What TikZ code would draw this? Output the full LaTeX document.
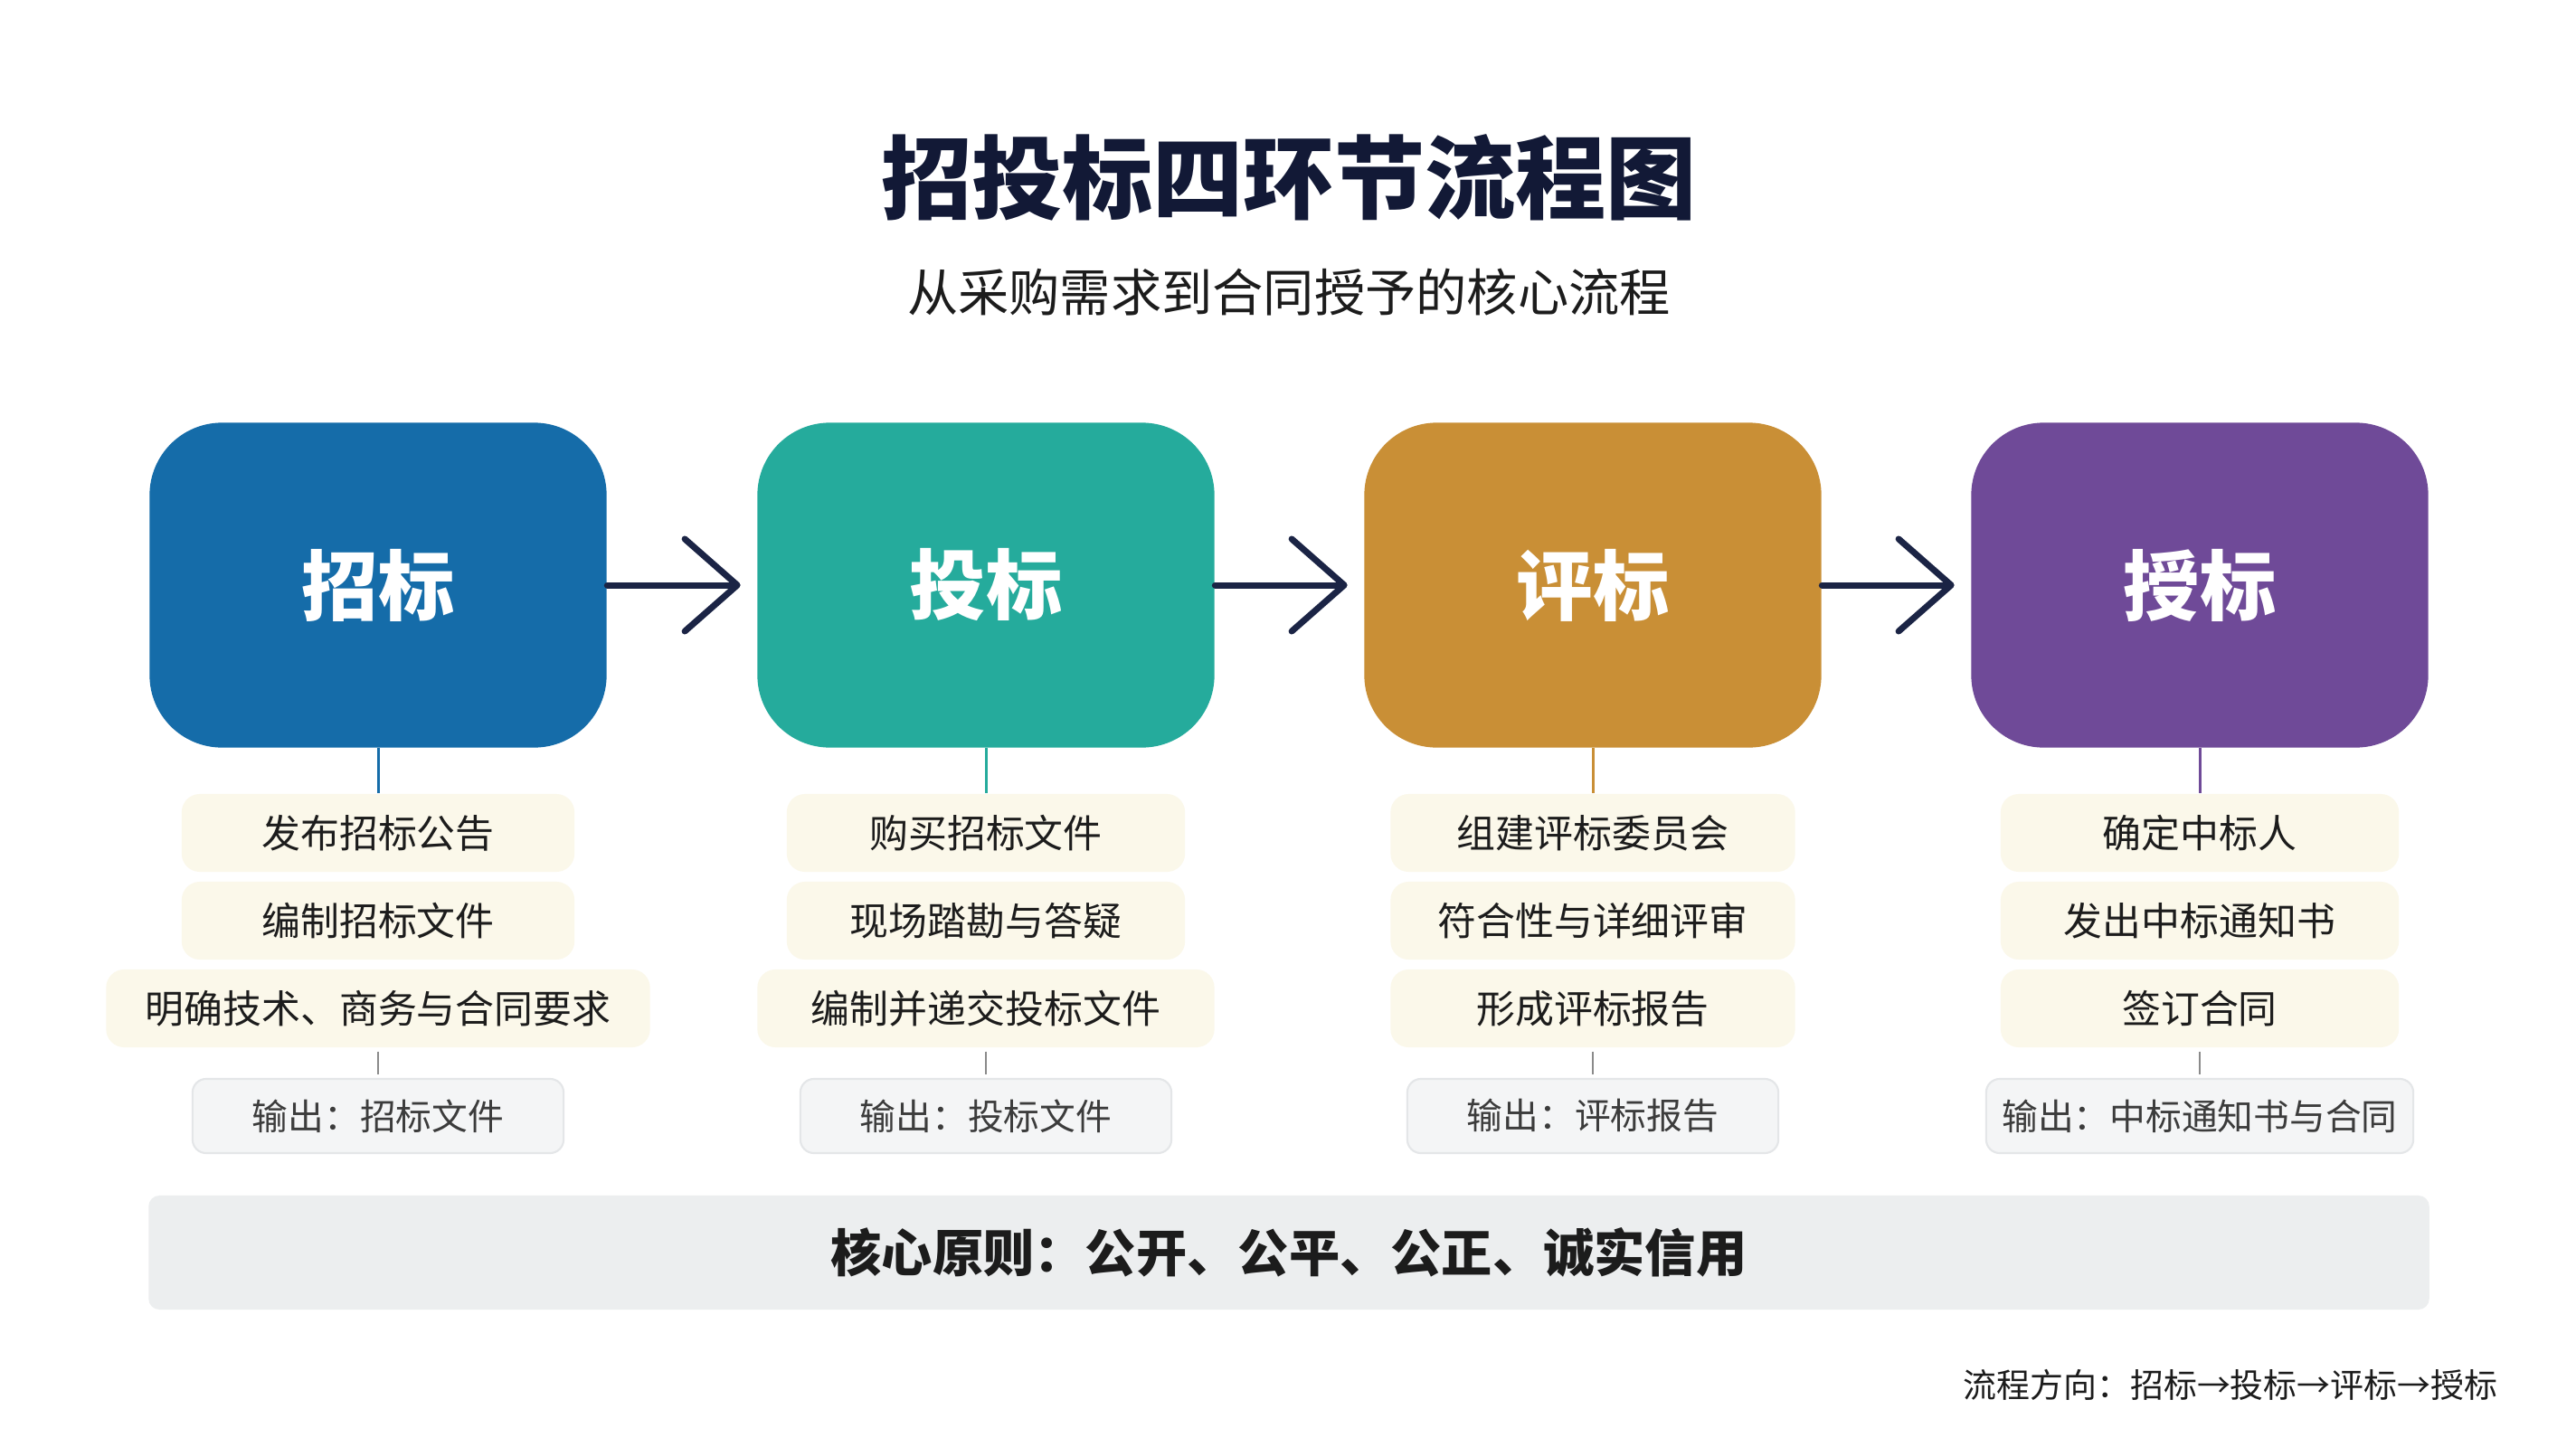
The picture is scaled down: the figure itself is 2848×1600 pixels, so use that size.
\documentclass[tikz,border=0pt]{standalone}
\usepackage{fontspec}
\setmainfont{Noto Sans CJK SC}
\usetikzlibrary{arrows.meta}
\definecolor{cblue}{HTML}{156CA9}
\definecolor{cteal}{HTML}{25AB9C}
\definecolor{cgold}{HTML}{C98F36}
\definecolor{cpurple}{HTML}{6F4A98}
\definecolor{ctitle}{HTML}{121936}
\definecolor{carrow}{HTML}{1B2445}
\definecolor{citem}{HTML}{FBF8EA}
\definecolor{cout}{HTML}{F4F5F6}
\definecolor{coutline}{HTML}{E4E6E8}
\definecolor{cbar}{HTML}{ECEEEF}
\definecolor{ctext}{HTML}{1C1C1C}
\definecolor{cgraytext}{HTML}{3C3C3C}
\definecolor{cgrayline}{HTML}{8A8A8A}
\newcommand\fsz[1]{\fontsize{#1}{#1}\selectfont}
\begin{document}
\begin{tikzpicture}[x=0.01cm,y=-0.01cm,
  stage/.style={rounded corners=0.8cm, minimum width=5.05cm, minimum height=3.59cm, inner sep=0pt, text=white, font=\fsz{24pt}\bfseries},
  flowarrow/.style={draw=carrow, line width=0.07cm, line cap=round, shorten >=0.18cm, -{Straight Barb[length=0.58cm, width=1.02cm, line width=0.07cm, round]}},
  itembox/.style={fill=citem, rounded corners=0.2cm, minimum height=0.86cm, inner sep=0pt, text=ctext, font=\fsz{12.2pt}},
  outbox/.style={fill=cout, draw=coutline, line width=0.6pt, rounded corners=0.15cm, minimum height=0.82cm, minimum width=4.1cm, inner sep=0pt, text=cgraytext, font=\fsz{11.3pt}},
  link/.style={line width=0.03cm},
  graylink/.style={draw=cgrayline, line width=0.025cm, shorten <=0.04cm, shorten >=0.04cm}
]
\useasboundingbox (0,0) rectangle (2848,1600);
\fill[white] (0,0) rectangle (2848,1600);

% title
\node[text=ctitle, font=\fsz{28.5pt}\bfseries] (title) at (1425,196) {招投标四环节流程图};
\node[text=ctext, font=\fsz{16pt}] (subtitle) at (1425,323) {从采购需求到合同授予的核心流程};

% stages
\node[stage, fill=cblue] (s1) at (418,647) {招标};
\node[stage, fill=cteal] (s2) at (1090,647) {投标};
\node[stage, fill=cgold] (s3) at (1761,647) {评标};
\node[stage, fill=cpurple] (s4) at (2432,647) {授标};

\draw[flowarrow] (s1.east) -- (s2.west);
\draw[flowarrow] (s2.east) -- (s3.west);
\draw[flowarrow] (s3.east) -- (s4.west);

% column 1
\node[itembox, minimum width=4.34cm] (a1) at (418,921) {发布招标公告};
\node[itembox, minimum width=4.34cm] (a2) at (418,1018) {编制招标文件};
\node[itembox, minimum width=6.01cm] (a3) at (418,1115) {明确技术、商务与合同要求};
\node[outbox] (o1) at (418,1234) {输出：招标文件};
\draw[link, cblue] (s1.south) -- (a1.north);
\draw[graylink] (a3.south) -- (o1.north);

% column 2
\node[itembox, minimum width=4.40cm] (b1) at (1090,921) {购买招标文件};
\node[itembox, minimum width=4.40cm] (b2) at (1090,1018) {现场踏勘与答疑};
\node[itembox, minimum width=5.05cm] (b3) at (1090,1115) {编制并递交投标文件};
\node[outbox] (o2) at (1090,1234) {输出：投标文件};
\draw[link, cteal] (s2.south) -- (b1.north);
\draw[graylink] (b3.south) -- (o2.north);

% column 3
\node[itembox, minimum width=4.47cm] (c1) at (1761,921) {组建评标委员会};
\node[itembox, minimum width=4.47cm] (c2) at (1761,1018) {符合性与详细评审};
\node[itembox, minimum width=4.47cm] (c3) at (1761,1115) {形成评标报告};
\node[outbox] (o3) at (1761,1234) {输出：评标报告};
\draw[link, cgold] (s3.south) -- (c1.north);
\draw[graylink] (c3.south) -- (o3.north);

% column 4
\node[itembox, minimum width=4.40cm] (d1) at (2432,921) {确定中标人};
\node[itembox, minimum width=4.40cm] (d2) at (2432,1018) {发出中标通知书};
\node[itembox, minimum width=4.40cm] (d3) at (2432,1115) {签订合同};
\node[outbox, minimum width=4.72cm] (o4) at (2432,1234) {输出：中标通知书与合同};
\draw[link, cpurple] (s4.south) -- (d1.north);
\draw[graylink] (d3.south) -- (o4.north);

% principle bar
\node[fill=cbar, rounded corners=0.12cm, minimum width=25.2cm, minimum height=1.26cm, inner sep=0pt, text=ctext, font=\fsz{16pt}\bfseries] (bar) at (1425,1385) {核心原则：公开、公平、公正、诚实信用};

% footer
\node[anchor=east, inner sep=0pt, text=ctext, font=\fsz{10.5pt}] (foot) at (2762,1531) {流程方向：招标→投标→评标→授标};
\end{tikzpicture}
\end{document}
